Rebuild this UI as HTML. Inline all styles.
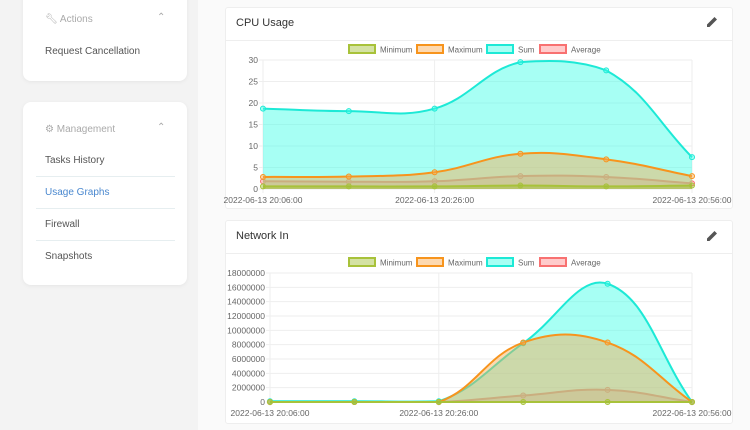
<!DOCTYPE html>
<html><head><meta charset="utf-8">
<style>
body{margin:0;width:750px;height:430px;overflow:hidden;font-family:"Liberation Sans",sans-serif;background:#fafafa;position:relative}
.side{position:absolute;left:0;top:0;width:198px;height:430px;background:#f3f3f3}
.card{position:absolute;background:#fff;border-radius:8px;box-shadow:0 1px 4px rgba(0,0,0,0.06)}
.t{position:absolute;font-size:10px;color:#555;white-space:nowrap}
.h{color:#aaa}
.sep{position:absolute;left:36px;width:139px;height:1px;background:#e6eef0}
.cc{position:absolute;left:225px;width:506px;background:#fff;border:1px solid #eee;border-radius:3px}
.ct{position:absolute;left:10px;top:9px;font-size:11px;color:#333}
.hl{position:absolute;left:0;right:0;top:32px;height:1px;background:#eee}
</style></head><body>
<div class="side"></div>
<div class="card" style="left:23px;top:-10px;width:164px;height:91px">
 <div class="t h" style="left:22px;top:24px">&#x1F527;&#xFE0E; Actions</div>
 <div class="t h" style="left:134px;top:22px">&#8963;</div>
 <div class="t" style="left:22px;top:56px">Request Cancellation</div>
</div>
<div class="card" style="left:23px;top:102px;width:164px;height:183px">
 <div class="t h" style="left:22px;top:22px">&#9881; Management</div>
 <div class="t h" style="left:134px;top:20px">&#8963;</div>
</div>
<div class="t" style="left:45px;top:155px">Tasks History</div>
<div class="sep" style="top:176px"></div>
<div class="t" style="left:45px;top:187px;color:#4a88cf">Usage Graphs</div>
<div class="sep" style="top:208px"></div>
<div class="t" style="left:45px;top:219px">Firewall</div>
<div class="sep" style="top:240px"></div>
<div class="t" style="left:45px;top:251px">Snapshots</div>

<div class="cc" style="top:7px;height:200px">
 <div class="ct">CPU Usage</div><div class="hl"></div>
</div>
<div class="cc" style="top:220px;height:202px">
 <div class="ct">Network In</div><div class="hl"></div>
</div>
<svg width="750" height="430" style="position:absolute;left:0;top:0" id="svg">
 <g transform="translate(712,22)"><path d="M-5,5 L-5,2.5 L2.5,-5 L5,-2.5 L-2.5,5Z" fill="#555"/></g>
 <g transform="translate(712,236)"><path d="M-5,5 L-5,2.5 L2.5,-5 L5,-2.5 L-2.5,5Z" fill="#555"/></g>
</svg>
<script>
const labels=["2022-06-13 20:06:00","","2022-06-13 20:26:00","","","2022-06-13 20:56:00"];
const cpuMin=[0.6,0.6,0.6,0.8,0.6,0.8];
const cpuMax=[2.8,2.9,3.9,8.2,6.9,3.0];
const cpuSum=[18.7,18.1,18.7,29.5,27.6,7.4];
const cpuAvg=[1.8,1.7,1.8,3.0,2.8,1.3];
const cpuTicks=[0,5,10,15,20,25,30];
const netMin=[0,0,0,0,0,0];
const netMax=[0,0,0,8300000,8300000,0];
const netSum=[100000,100000,100000,8200000,16500000,0];
const netAvg=[0,0,0,900000,1700000,0];
const netTicks=[0,2000000,4000000,6000000,8000000,10000000,12000000,14000000,16000000,18000000];
const NS="http://www.w3.org/2000/svg",svg=document.getElementById('svg');
function mk(t,a,p){const e=document.createElementNS(NS,t);for(const k in a)e.setAttribute(k,a[k]);(p||svg).appendChild(e);return e;}
const styles=[{n:"Minimum",b:"#a8c23a",f:"rgba(160,190,50,0.45)"},{n:"Maximum",b:"#f7941d",f:"rgba(250,170,80,0.45)"},{n:"Sum",b:"#1de9d6",f:"rgba(60,255,230,0.45)"},{n:"Average",b:"#f87171",f:"rgba(255,140,140,0.45)"}];
function spline(pts,yMin,yMax){let d="M"+pts[0][0]+","+pts[0][1];const cps=[];const t=0.4;
 const cl=y=>Math.max(yMin,Math.min(yMax,y));
 for(let i=0;i<pts.length;i++){const p=pts[Math.max(0,i-1)],c=pts[i],n=pts[Math.min(pts.length-1,i+1)];
  const d01=Math.hypot(c[0]-p[0],c[1]-p[1]),d12=Math.hypot(n[0]-c[0],n[1]-c[1]);const s01=d01/(d01+d12)||0,s12=d12/(d01+d12)||0;
  const fa=t*s01,fb=t*s12;cps.push([[c[0]-fa*(n[0]-p[0]),cl(c[1]-fa*(n[1]-p[1]))],[c[0]+fb*(n[0]-p[0]),cl(c[1]+fb*(n[1]-p[1]))]]);}
 for(let i=1;i<pts.length;i++){const a=cps[i-1][1],b=cps[i][0];d+=" C"+a[0]+","+a[1]+" "+b[0]+","+b[1]+" "+pts[i][0]+","+pts[i][1];}return d;}
function chart(o){
 const xs=i=>o.x0+(o.x1-o.x0)*i/(labels.length-1), ys=v=>o.y0-(o.y0-o.y1)*v/o.top;
 const g=mk('g',{});
 
 
 const lx=[349,417,487,540],tx=[380,448,518,571];
 styles.forEach((s,i)=>{const lg=mk('g',{},g);
  
  
  mk('rect',{x:lx[i],y:o.ly,width:26,height:8,fill:s.f,stroke:s.b,'stroke-width':2},lg);
  const t=mk('text',{x:tx[i],y:o.ly+7.5,'font-size':8,fill:'#666'},lg);t.textContent=s.n;});
 o.ticks.forEach(v=>{const y=ys(v);mk('line',{x1:o.x0-4,x2:o.x1,y1:y,y2:y,stroke:'#eee'},g);
  const t=mk('text',{x:o.x0-5,y:y+3,'font-size':8.5,fill:'#666','text-anchor':'end'},g);t.textContent=v;
  
  });
 labels.forEach((l,i)=>{if(!l)return;const x=xs(i);mk('line',{x1:x,x2:x,y1:o.y1,y2:o.y0+4,stroke:'#eee'},g);
  const t=mk('text',{x:x,y:o.y0+14,'font-size':8.5,fill:'#666','text-anchor':'middle'},g);t.textContent=l;
  
  });
 mk('line',{x1:o.x1,x2:o.x1,y1:o.y1,y2:o.y0,stroke:'#eee'},g);
 const series=[o.sMin,o.sMax,o.sSum,o.sAvg];
 for(let k=3;k>=0;k--){const s=styles[k];const pts=series[k].map((v,i)=>[xs(i),ys(v)]);const d=spline(pts,o.y1,o.y0);
  const sg=mk('g',{},g);
  
  
  mk('path',{d:d+" L"+xs(labels.length-1)+","+o.y0+" L"+xs(0)+","+o.y0+"Z",fill:s.f,stroke:'none'},sg);
  mk('path',{d:d,fill:'none',stroke:s.b,'stroke-width':2},sg);
  pts.forEach(p=>{const c=mk('circle',{cx:p[0],cy:p[1],r:2.5,fill:s.f,stroke:s.b,'stroke-width':1},sg);
   
   });}
}
chart({name:'cpu-chart',x0:263,x1:692,y0:189,y1:60,top:30,ticks:cpuTicks,ly:45,sMin:cpuMin,sMax:cpuMax,sSum:cpuSum,sAvg:cpuAvg});
chart({name:'network-chart',x0:270,x1:692,y0:402,y1:273,top:18000000,ticks:netTicks,ly:258,sMin:netMin,sMax:netMax,sSum:netSum,sAvg:netAvg});
</script>
</body></html>
